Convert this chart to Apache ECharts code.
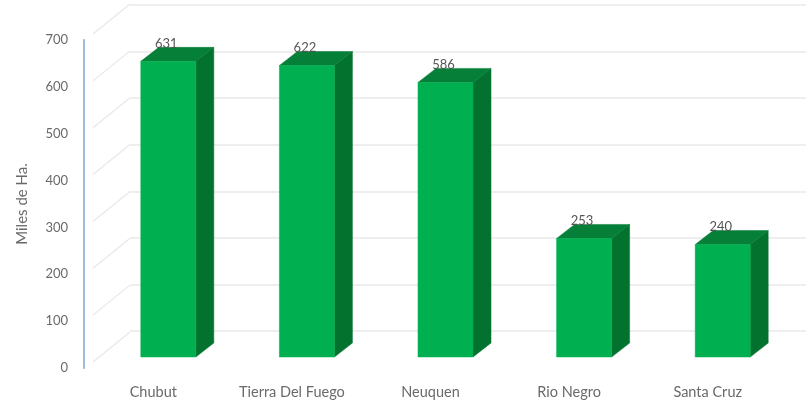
<!DOCTYPE html>
<html>
<head>
<meta charset="utf-8">
<style>html,body{margin:0;padding:0;background:#fff}#chart{width:806px;height:406px}</style>
<script src="https://cdn.jsdelivr.net/npm/echarts@6/dist/echarts.min.js"></script>
</head>
<body>
<div id="chart"></div>
<script>
// Superficie por provincia, en miles de hectáreas
const categories = ['Chubut', 'Tierra Del Fuego', 'Neuquen', 'Rio Negro', 'Santa Cruz'];
const values = [631, 622, 586, 253, 240];
const ticks = [0, 100, 200, 300, 400, 500, 600, 700];

// Proyección oblicua: pared del fondo y plano donde se apoyan las columnas
const WALL_DX = 46, WALL_DY = 36;
const BAR_DX = 15, BAR_DY = 11;
const DEPTH_DX = 18, DEPTH_DY = 14;
const BAR_RATIO = 0.397;
const FACE = '#00b050', SIDE = '#04722f', TOP = '#067f38';
const GRID_LINE = '#e8e8e8', TEXT = '#6a6a6a';

const font = 'Lato, "Open Sans", sans-serif';

function renderSideWall(params, api) {
  const p = api.coord([0, api.value(0)]);
  const x0 = params.coordSys.x;
  return {
    type: 'line',
    silent: true,
    shape: { x1: x0 + 9, y1: p[1] - 6, x2: x0 + WALL_DX, y2: p[1] - WALL_DY },
    style: { stroke: GRID_LINE, lineWidth: 1.2 }
  };
}

function renderColumn(params, api) {
  const base = api.coord([api.value(0), 0]);
  const head = api.coord([api.value(0), api.value(1)]);
  const w = api.size([1, 0])[0] * BAR_RATIO;
  const l = base[0] + BAR_DX - w / 2, r = l + w;
  const b = base[1] - BAR_DY, t = head[1] - BAR_DY;
  const poly = (points, fill) => ({
    type: 'polygon',
    shape: { points },
    style: { fill, stroke: fill, lineWidth: 0.5 }
  });
  return {
    type: 'group',
    children: [
      poly([[r, t], [r + DEPTH_DX, t - DEPTH_DY], [r + DEPTH_DX, b - DEPTH_DY], [r, b]], SIDE),
      poly([[l, t], [l + DEPTH_DX, t - DEPTH_DY], [r + DEPTH_DX, t - DEPTH_DY], [r, t]], TOP),
      poly([[l, t], [r, t], [r, b], [l, b]], FACE),
      {
        type: 'text',
        x: (l + r) / 2 - 2,
        y: t - 18,
        style: {
          text: String(api.value(1)),
          fill: '#555555',
          font: '13px ' + font,
          align: 'center',
          verticalAlign: 'middle'
        }
      }
    ]
  };
}

const chart = echarts.init(document.getElementById('chart'), null, { renderer: 'canvas' });
chart.setOption({
  animation: false,
  backgroundColor: '#ffffff',
  grid: [
    { left: 84, top: 40, width: 693, height: 328 },
    { left: 130, top: 5, width: 693, height: 326 }
  ],
  xAxis: [
    {
      type: 'category',
      data: categories,
      gridIndex: 0,
      axisLine: { show: false },
      axisTick: { show: false },
      axisLabel: { color: TEXT, fontFamily: font, fontSize: 14.5, margin: 17 }
    },
    {
      type: 'category',
      data: categories,
      gridIndex: 1,
      show: false
    }
  ],
  yAxis: [
    {
      type: 'value',
      gridIndex: 0,
      min: 0,
      max: 700,
      interval: 100,
      name: 'Miles de Ha.',
      nameLocation: 'middle',
      nameGap: 54,
      nameTextStyle: { color: TEXT, fontFamily: font, fontSize: 15 },
      axisLine: { show: true, lineStyle: { color: '#9bbcdc', width: 2 } },
      axisTick: { show: false },
      axisLabel: { color: TEXT, fontFamily: font, fontSize: 13, margin: 16 },
      splitLine: { show: false }
    },
    {
      type: 'value',
      gridIndex: 1,
      min: 0,
      max: 700,
      interval: 100,
      axisLine: { show: false },
      axisTick: { show: false },
      axisLabel: { show: false },
      splitLine: { show: true, lineStyle: { color: GRID_LINE, width: 1.5 } }
    }
  ],
  series: [
    {
      type: 'custom',
      xAxisIndex: 0,
      yAxisIndex: 0,
      z: 1,
      clip: false,
      silent: true,
      renderItem: renderSideWall,
      data: ticks.map(t => [t]),
      encode: { y: 0 }
    },
    {
      type: 'custom',
      xAxisIndex: 0,
      yAxisIndex: 0,
      z: 3,
      clip: false,
      renderItem: renderColumn,
      data: values.map((v, i) => [i, v]),
      encode: { x: 0, y: 1 }
    }
  ]
});
</script>
</body>
</html>
